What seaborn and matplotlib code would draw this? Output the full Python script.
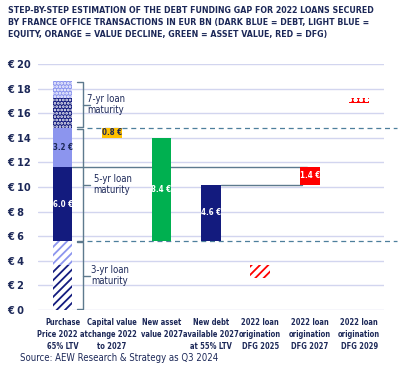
import matplotlib
matplotlib.use("Agg")
import matplotlib.pyplot as plt
from matplotlib import font_manager
from matplotlib.font_manager import FontProperties
import seaborn as sns

categories = ["Purchase\nPrice 2022 at\n65% LTV", "Capital value\nchange 2022\nto 2027",
              "New asset\nvalue 2027", "New debt\navailable 2027\nat 55% LTV",
              "2022 loan\norigination\nDFG 2025", "2022 loan\norigination\nDFG 2027",
              "2022 loan\norigination\nDFG 2029"]

# purchase price 2022 split by loan maturity, EUR bn
maturities = ["3-yr loan\nmaturity", "5-yr loan\nmaturity", "7-yr loan\nmaturity"]
purchase_debt = [3.64, 6.0, 2.44]
purchase_equity = [1.96, 3.2, 1.36]
value_decline = 0.8
new_asset_value = 8.4
new_debt = 4.6
dfg = [1.0, 1.4, 0.4]

navy = "#131b7e"
light = "#8c95ee"
txt = "#1c2858"
gray = "#5d7a8e"

sns.set_theme(style="white")
plt.rcParams['font.family'] = ['DejaVu Sans']
plt.rcParams['hatch.linewidth'] = 1.3


def cond(size, bold=False):
    # DejaVu Sans Condensed, looked up by file
    want = 700 if bold else 400
    for f in font_manager.fontManager.ttflist:
        if f.name == "DejaVu Sans" and f.stretch == "condensed" and f.weight == want and f.style == "normal":
            return FontProperties(fname=f.fname, size=size)
    return FontProperties(family="DejaVu Sans", weight="bold" if bold else "normal", size=size)


fig = plt.figure(figsize=(3.99, 3.74), dpi=100)
ax = fig.add_axes([0.095, 0.171, 0.867, 0.658])
renderer = fig.canvas.get_renderer()


def fit(texts, ref, width_px):
    # scale font size so that the ref text is width_px wide
    s = ref.get_fontsize() * width_px / ref.get_window_extent(renderer).width
    for t in texts:
        t.set_fontsize(s)


w = 0.4
lab = cond(7, True)
value_texts = []
mat_texts = []

# stacked purchase bar
styles = [
    [dict(color="white", edgecolor=navy, hatch="////"), dict(color="white", edgecolor=light, hatch="////")],
    [dict(color=navy, edgecolor=navy), dict(color=light, edgecolor=light)],
    [dict(color=navy, edgecolor="white", hatch="....."), dict(color=light, edgecolor="white", hatch=".....")],
]
base = 0
tops = []
debt_tops = []
for i in range(3):
    ax.bar(0, purchase_debt[i], w, bottom=base, linewidth=0, zorder=3, **styles[i][0])
    debt_tops.append(base + purchase_debt[i])
    ax.bar(0, purchase_equity[i], w, bottom=base + purchase_debt[i], linewidth=0, zorder=3, **styles[i][1])
    mid = base + (purchase_debt[i] + purchase_equity[i]) / 2
    bot = base
    base += purchase_debt[i] + purchase_equity[i]
    tops.append(base)
    # bracket
    ax.plot([0.29, 0.41, 0.41, 0.29], [bot + 0.05, bot + 0.05, base - 0.05, base - 0.05],
            color=gray, lw=1, zorder=2)
    ax.plot([0.41, 0.55], [mid, mid], color=gray, lw=1, zorder=2)
    mat_texts.append(ax.text([0.57, 0.63, 0.5][i], mid, maturities[i], fontproperties=cond(8), color=txt,
                             va="center", ha="left", linespacing=1.05, zorder=4))

value_texts.append(ax.text(0, debt_tops[1] - purchase_debt[1] / 2, f"{purchase_debt[1]:.1f} €", color="white",
                           ha="center", va="center", fontproperties=lab, zorder=5))
value_texts.append(ax.text(0, debt_tops[1] + purchase_equity[1] / 2, f"{purchase_equity[1]:.1f} €", color=txt,
                           ha="center", va="center", fontproperties=lab, zorder=5))

# value decline
ax.bar(1, value_decline, w, bottom=tops[1] - value_decline, color="#ffc000", linewidth=0, zorder=3)
value_texts.append(ax.text(1, tops[1] - value_decline / 2, f"{value_decline:.1f} €", color=txt,
                           ha="center", va="center", fontproperties=lab, zorder=5))

# new asset value and new debt
ax.bar(2, new_asset_value, w, bottom=tops[0], color="#00b050", linewidth=0, zorder=3)
value_texts.append(ax.text(2, tops[0] + new_asset_value / 2, f"{new_asset_value:.1f} €", color="white",
                           ha="center", va="center", fontproperties=lab, zorder=5))
ax.bar(3, new_debt, w, bottom=tops[0], color=navy, linewidth=0, zorder=3)
value_texts.append(ax.text(3, tops[0] + new_debt / 2, f"{new_debt:.1f} €", color="white",
                           ha="center", va="center", fontproperties=lab, zorder=5))

# debt funding gaps
ax.bar(4, dfg[0], w, bottom=debt_tops[0] - dfg[0], color="white", edgecolor="#ff0000",
       hatch="////", linewidth=0, zorder=3)
ax.bar(5, dfg[1], w, bottom=debt_tops[1] - dfg[1], color="#ff0000", linewidth=0, zorder=3)
value_texts.append(ax.text(5, debt_tops[1] - dfg[1] / 2, f"{dfg[1]:.1f} €", color="white",
                           ha="center", va="center", fontproperties=lab, zorder=5))
ax.bar(6, dfg[2], w, bottom=debt_tops[2] - dfg[2], color="#ff0000", edgecolor="white",
       hatch="ooo", linewidth=0, zorder=3)

# connector lines
ax.plot([0.2, 4.95], [debt_tops[1], debt_tops[1]], color=gray, lw=1, zorder=2)
ax.plot([3.2, 4.85], [tops[0] + new_debt, tops[0] + new_debt], color=gray, lw=1, zorder=2)
for y in tops[:2]:
    ax.plot([0.49, 6.77], [y, y], color="#4d7f9c", lw=0.9, ls=(0, (4, 3)), zorder=2, clip_on=False)

ax.set_xlim(-0.5, 6.5)
ax.set_ylim(0, 20)
ax.set_yticks(range(0, 21, 2))
ax.set_yticklabels([f"€ {v}" for v in range(0, 21, 2)], color=txt)
for t in ax.get_yticklabels():
    t.set_ha("left")
    t.set_fontproperties(cond(9, True))
ax.tick_params(axis="y", pad=22, length=0)
ax.set_xticks(range(len(categories)))
ax.set_xticklabels(categories, color=txt, va="top", linespacing=1.4)
for t in ax.get_xticklabels():
    t.set_fontproperties(cond(6.4, True))
ax.tick_params(axis="x", pad=6, length=0)
ax.grid(axis="y", color="#d2d5ef", lw=1, zorder=0)
ax.grid(axis="x", visible=False)
sns.despine(ax=ax, left=True, bottom=True)

title = fig.text(0.02, 0.985, "STEP-BY-STEP ESTIMATION OF THE DEBT FUNDING GAP FOR 2022 LOANS SECURED\n"
                 "BY FRANCE OFFICE TRANSACTIONS IN EUR BN (DARK BLUE = DEBT, LIGHT BLUE =\n"
                 "EQUITY, ORANGE = VALUE DECLINE, GREEN = ASSET VALUE, RED = DFG)",
                 ha="left", va="top", fontproperties=cond(7.4, True), color=txt, linespacing=1.45)
source = fig.text(0.05, 0.043, "Source: AEW Research & Strategy as Q3 2024", ha="left", va="center",
                  fontproperties=cond(8.3), color=txt)

# size the texts to the widths they take in the original layout
fit([title], title, 368)
fit([source], source, 197)
xl = ax.get_xticklabels()
fit(xl, xl[3], 56)
yl = ax.get_yticklabels()
fit(yl, yl[9], 24)
fit(value_texts, value_texts[0], 20)
fit(mat_texts, mat_texts[0], 38)

fig.savefig("out.png", dpi=100)
